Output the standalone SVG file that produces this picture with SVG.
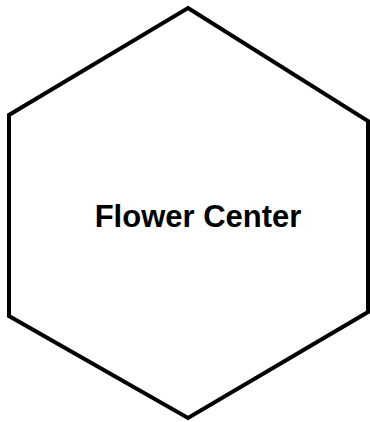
<svg xmlns="http://www.w3.org/2000/svg" width="370" height="422" viewBox="0 0 370 422">
<style>
.hex{fill:#fff;stroke:#000;stroke-width:4;stroke-linejoin:miter}
.lbl{font-family:"Liberation Sans",Arial,sans-serif;font-weight:bold;font-size:31px;fill:#000}
</style>
<rect width="370" height="422" fill="#fff"/>
<g id="flower-center">
<polygon class="hex" points="188,8 368,121 368,312 188,418 9,316 9,115"/>
<text class="lbl" x="198" y="227" text-anchor="middle">Flower Center</text>
</g>
<g id="connectors"/>
</svg>
